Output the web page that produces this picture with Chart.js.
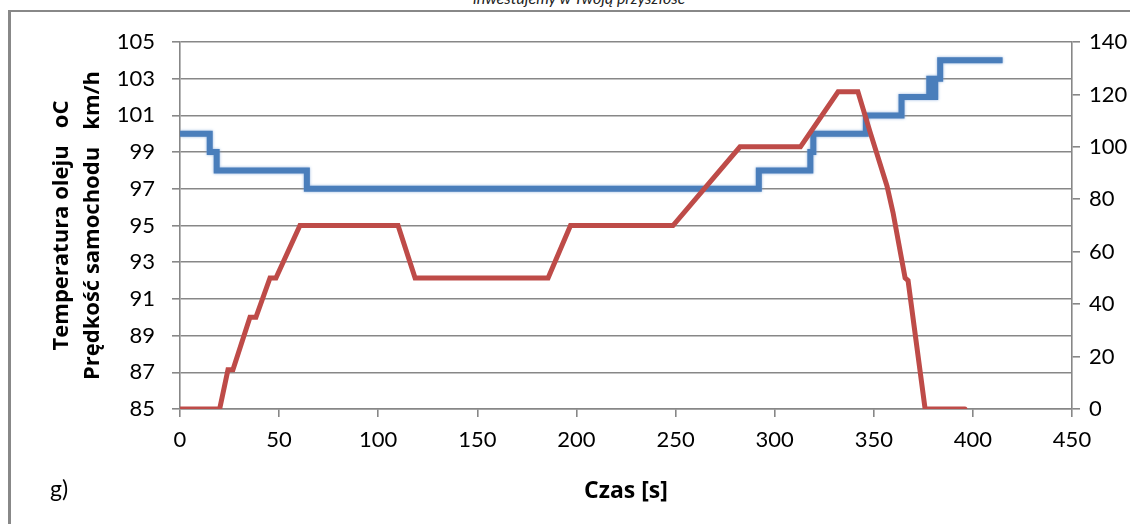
<!DOCTYPE html>
<html>
<head>
<meta charset="utf-8">
<script src="https://cdn.jsdelivr.net/npm/chart.js@4"></script>
<style>
html, body { margin: 0; padding: 0; background: #fff; }
#wrap { position: relative; width: 1130px; height: 524px; overflow: hidden; font-family: Lato, sans-serif; }
#frame { position: absolute; left: 8px; top: 10px; right: 0; bottom: 0; border-top: 2px solid #888; border-left: 3px solid #888; }
#banner { position: absolute; left: 0; width: 1158px; top: -12px; text-align: center; font-style: italic; font-size: 16px; color: #222; }
#tag { position: absolute; left: 50px; top: 474px; font-size: 23px; color: #000; }
canvas { position: absolute; left: 0; top: 0; }
</style>
</head>
<body>
<div id="wrap">
  <div id="frame"></div>
  <div id="banner">inwestujemy w Twoją przyszłość</div>
  <canvas id="chart" width="1130" height="524"></canvas>
  <div id="tag">g)</div>
</div>
<script>
// temperatura oleju [oC] - lewa os
const tempTime = [0, 15, 15, 18.5, 18.5, 64, 64, 292, 292, 318, 318, 319.5, 319.5, 346, 346, 364, 364, 378, 378, 380, 380, 381, 381, 383.5, 383.5, 415];
const tempValue = [100, 100, 99, 99, 98, 98, 97, 97, 98, 98, 99, 99, 100, 100, 101, 101, 102, 102, 103, 103, 102, 102, 103, 103, 104, 104];
// predkosc samochodu [km/h] - prawa os
const speedTime = [0, 20, 24.2, 26.7, 35.3, 38.3, 45.4, 48.4, 60.5, 110, 118.6, 185.7, 197, 248.7, 282.5, 313, 332, 342, 348, 356.7, 359.7, 365.8, 367.3, 375.9, 396];
const speedValue = [0, 0, 15, 15, 35, 35, 50, 50, 70, 70, 50, 50, 70, 70, 100, 100, 121, 121, 106, 85, 75, 50, 49, 0, 0];

const gridGray = "#878787";
const tickFont = { family: "Lato", size: 22 };
const titleFont = { family: "Open Sans", size: 22, weight: "bold", lineHeight: 1.42 };

function points(xs, ys) {
    let out = [];
    for (let i = 0; i < xs.length; i++)
        out.push({ x: xs[i], y: ys[i] });
    return out;
}

// lekka poswiata pod niebieska linia
const glow = {
    id: "glow",
    beforeDatasetDraw(chart, args) {
        if (args.index !== 0) return;
        chart.ctx.save();
        chart.ctx.shadowColor = "rgba(120,160,215,0.8)";
        chart.ctx.shadowBlur = 3;
    },
    afterDatasetDraw(chart, args) {
        if (args.index !== 0) return;
        chart.ctx.restore();
    }
};

new Chart(document.getElementById("chart").getContext("2d"), {
    type: "line",
    data: {
        datasets: [
            {
                label: "Temperatura oleju",
                data: points(tempTime, tempValue),
                borderColor: "#4a7ebb",
                backgroundColor: "#4a7ebb",
                borderWidth: 6,
                pointRadius: 0,
                tension: 0,
                yAxisID: "y",
                order: 1
            },
            {
                label: "Prędkość samochodu",
                data: points(speedTime, speedValue),
                borderColor: "#be4b48",
                backgroundColor: "#be4b48",
                borderWidth: 5,
                pointRadius: 0,
                tension: 0,
                borderCapStyle: "round",
                yAxisID: "y1",
                order: 0
            }
        ]
    },
    plugins: [glow],
    options: {
        responsive: false,
        animation: false,
        layout: { padding: { top: 42, left: 0, right: 0, bottom: 0 } },
        plugins: {
            legend: { display: false },
            tooltip: { enabled: false }
        },
        scales: {
            x: {
                type: "linear",
                min: 0,
                max: 450,
                ticks: { stepSize: 50, color: "#000", font: tickFont, padding: 10, maxRotation: 0 },
                grid: { drawOnChartArea: false, drawTicks: true, tickLength: 8, color: gridGray, lineWidth: 1.6 },
                border: { color: gridGray, width: 1.6 },
                title: {
                    display: true,
                    text: "Czas [s]",
                    color: "#000",
                    font: { family: "Open Sans", size: 23, weight: "bold" },
                    padding: { top: 0, bottom: 19 }
                },
                afterFit: function (scale) { scale.height = 115; }
            },
            y: {
                position: "left",
                min: 85,
                max: 105,
                ticks: { stepSize: 2, color: "#000", font: tickFont, padding: 17 },
                grid: { color: gridGray, lineWidth: 1.6, tickLength: 8 },
                border: { color: gridGray, width: 1.6 },
                title: {
                    display: true,
                    text: ["Temperatura oleju   oC", "Prędkość samochodu   km/h"],
                    color: "#000",
                    font: titleFont,
                    padding: { top: 46, bottom: 0 }
                },
                afterFit: function (scale) { scale.width = 180; }
            },
            y1: {
                position: "right",
                min: 0,
                max: 140,
                ticks: { stepSize: 20, color: "#000", font: tickFont, padding: 9 },
                grid: { drawOnChartArea: false, color: gridGray, lineWidth: 1.6, tickLength: 8 },
                border: { color: gridGray, width: 1.6 },
                afterFit: function (scale) { scale.width = 58; }
            }
        }
    }
});
</script>
</body>
</html>
